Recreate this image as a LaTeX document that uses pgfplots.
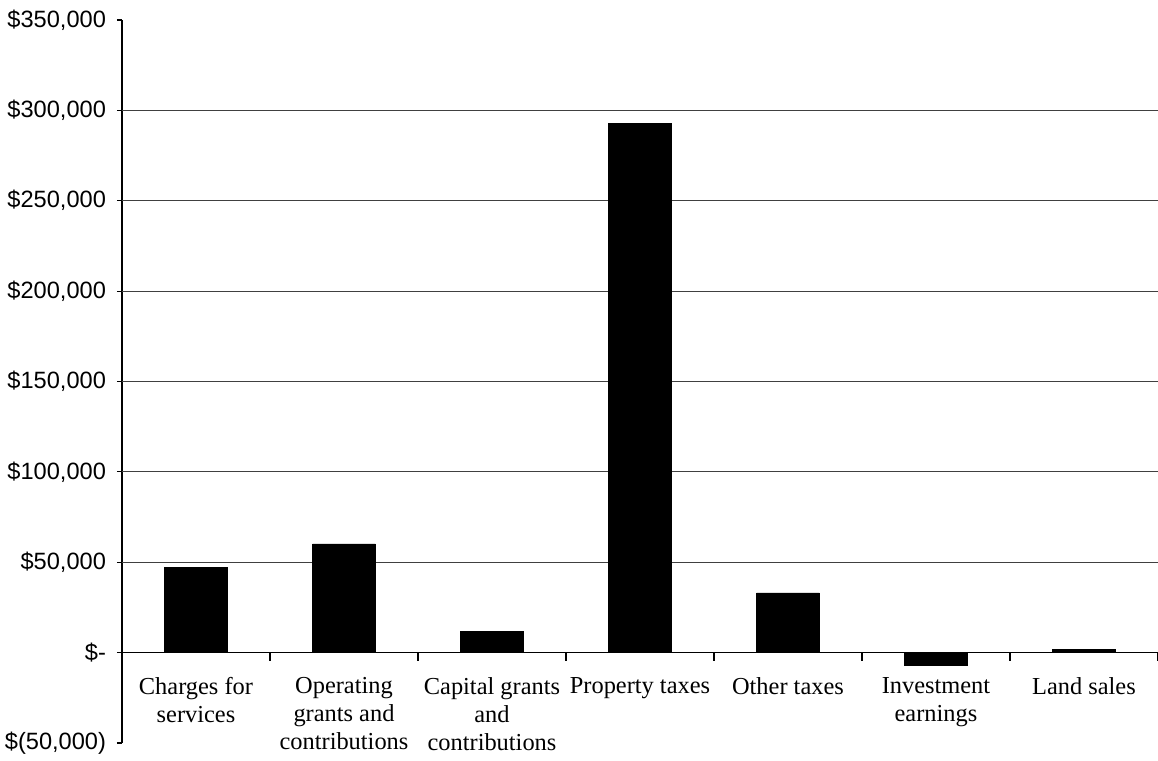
\documentclass[border=0pt]{standalone}
\usepackage{fontspec}
\setmainfont{Liberation Serif}
\newfontfamily\arialfont{Liberation Sans}
\usepackage{pgfplots}
\pgfplotsset{compat=1.18}
\begin{document}
\begin{tikzpicture}
\useasboundingbox (-61pt,-9pt) rectangle (518pt,371.5pt);
\begin{axis}[
  at={(0,0)}, anchor=south west,
  scale only axis,
  width=518pt, height=361.5pt,
  xmin=0, xmax=7,
  ymin=-50000, ymax=350000,
  axis x line*=middle,
  axis y line*=left,
  axis line style={-, black, line width=0.6pt},
  hide obscured x ticks=false,
  hide obscured y ticks=false,
  xtick={0.5,1.5,2.5,3.5,4.5,5.5,6.5},
  xticklabels={Charges for\\services, Operating\\grants and\\contributions, Capital grants\\and\\contributions, Property taxes, Other taxes, Investment\\earnings, Land sales},
  minor xtick={0,1,2,3,4,5,6,7},
  major x tick style={draw=none},
  minor x tick style={black, line width=0.6pt},
  minor tick length=4pt,
  major tick length=2.5pt,
  xtick align=outside,
  ytick align=outside,
  ytick={-50000,0,50000,100000,150000,200000,250000,300000,350000},
  yticklabels={{\$(50,000)},{\$-},{\$50,000},{\$100,000},{\$150,000},{\$200,000},{\$250,000},{\$300,000},{\$350,000}},
  extra y ticks={50000,100000,150000,200000,250000,300000},
  extra y tick labels={},
  extra y tick style={grid=major, major tick length=0pt},
  major grid style={black!75, line width=0.5pt},
  y tick style={black, line width=0.6pt},
  xticklabel style={align=center, font=\fontsize{12.2}{14}\selectfont, anchor=north, yshift=-6.5pt},
  yticklabel style={font=\arialfont\fontsize{11.8}{13.8}\selectfont, xshift=-2pt},
  /pgf/number format/assume math mode=true,
  clip=false,
]
\addplot[ybar, bar width=0.425, fill=black, draw=black] coordinates {
  (0.5,47200) (1.5,60100) (2.5,11600) (3.5,293000) (4.5,33000) (5.5,-6800) (6.5,2000)
};
\end{axis}
\end{tikzpicture}
\end{document}
